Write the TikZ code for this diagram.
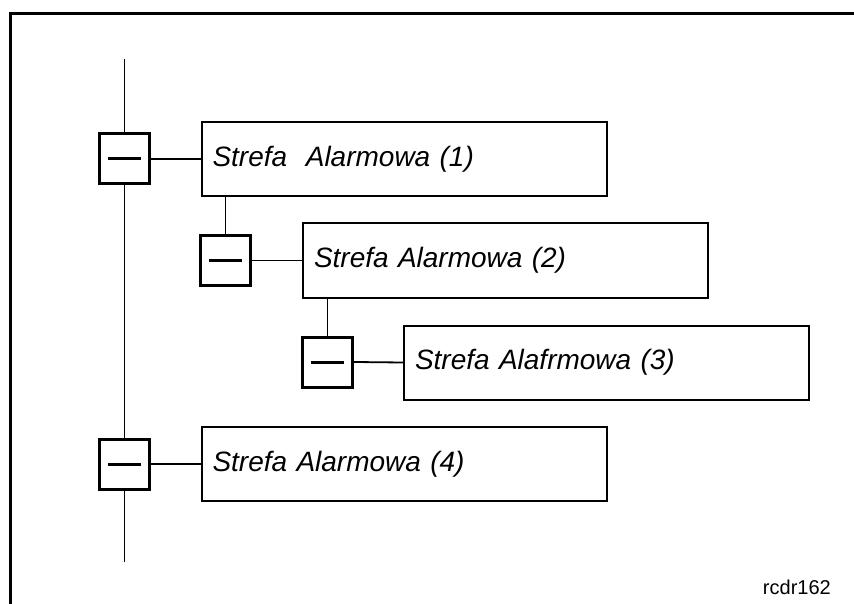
\documentclass[tikz,border=0pt]{standalone}
\usepackage{fontspec}
\setmainfont{Liberation Sans}
\begin{document}
\begin{tikzpicture}[x=1pt,y=-1pt,
  zone/.style={draw, line width=2pt, minimum width=405pt, minimum height=74pt,
    text width=383pt, inner xsep=11pt, align=left,
    font=\fontsize{28}{34}\selectfont\itshape},
  swbox/.style={draw, fill=white, line width=3pt, minimum size=50pt, inner sep=0pt},
  dashbar/.style={line width=3pt},
  conn/.style={line width=1.8pt},
  frame/.style={line width=3pt}]
\useasboundingbox (0,0) rectangle (854,604);
% frame
\coordinate (fa) at (10,604);
\coordinate (fb) at (10,14);
\coordinate (fc) at (854,14);
\draw[frame] (fa) -- (fb) -- (fc);
% text boxes
\node[zone] (b1) at (404,159) {Strefa\ \ Alarmowa (1)};
\node[zone] (b2) at (505.5,260.5) {Strefa Alarmowa (2)};
\node[zone] (b3) at (606.5,362.5) {Strefa Alafrmowa (3)};
\node[zone] (b4) at (404,464) {Strefa Alarmowa (4)};
% main line
\coordinate (top) at (124.5,59);
\coordinate (bot) at (124.5,562);
% switch boxes
\node[swbox] (s1) at (124.5,159) {};
\node[swbox] (s2) at (225.5,260.5) {};
\node[swbox] (s3) at (327.5,362) {};
\node[swbox] (s4) at (124.5,464) {};
\foreach \s in {s1,s2,s3,s4}{
  \draw[dashbar] ([xshift=-16.5pt]\s.center) -- ([xshift=16.5pt]\s.center);
}
% connectors
\draw[conn] (top) -- (s1.north);
\draw[conn] (s1.south) -- (s4.north);
\draw[conn] (s4.south) -- (bot);
\draw[conn] (s1.east) -- (b1.west);
\draw[conn] (s2.east) -- (b2.west);
\draw[conn] (s3.east) -- (b3.west);
\draw[conn] (s4.east) -- (b4.west);
\draw[conn] (s2.north) -- (s2.north |- b1.south);
\draw[conn] (s3.north) -- (s3.north |- b2.south);
% label
\node[anchor=base east, inner sep=0pt, font=\fontsize{20}{24}\selectfont] (lbl) at (831,594) {rcdr162};
\end{tikzpicture}
\end{document}
